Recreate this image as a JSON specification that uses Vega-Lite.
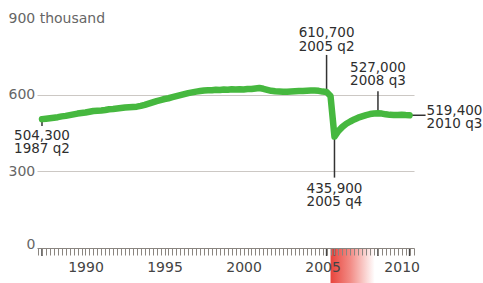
{
  "$schema": "https://vega.github.io/schema/vega-lite/v6.json",
  "autosize": {"type": "none"},
  "width": 377,
  "height": 230,
  "padding": {"left": 37, "top": 18, "right": 69, "bottom": 35},
  "background": "white",
  "config": {
    "view": {"stroke": null},
    "font": "DejaVu Sans",
    "text": {"font": "DejaVu Sans", "fontSize": 13.5, "color": "#2e2e2e", "lineHeight": 13.5},
    "axis": {"labelFont": "DejaVu Sans", "labelFontSize": 14}
  },
  "datasets": {
    "series": [
      {"t": 1987.25, "v": 504.3}, {"t": 1987.5, "v": 506}, {"t": 1987.75, "v": 508},
      {"t": 1988, "v": 510}, {"t": 1988.25, "v": 512}, {"t": 1988.5, "v": 515}, {"t": 1988.75, "v": 517},
      {"t": 1989, "v": 520}, {"t": 1989.25, "v": 523}, {"t": 1989.5, "v": 526}, {"t": 1989.75, "v": 528},
      {"t": 1990, "v": 530}, {"t": 1990.25, "v": 533}, {"t": 1990.5, "v": 536}, {"t": 1990.75, "v": 537},
      {"t": 1991, "v": 538}, {"t": 1991.25, "v": 540}, {"t": 1991.5, "v": 543}, {"t": 1991.75, "v": 544},
      {"t": 1992, "v": 546}, {"t": 1992.25, "v": 548}, {"t": 1992.5, "v": 550}, {"t": 1992.75, "v": 551},
      {"t": 1993, "v": 552}, {"t": 1993.25, "v": 553}, {"t": 1993.5, "v": 556}, {"t": 1993.75, "v": 560},
      {"t": 1994, "v": 565}, {"t": 1994.25, "v": 570}, {"t": 1994.5, "v": 575}, {"t": 1994.75, "v": 579},
      {"t": 1995, "v": 583}, {"t": 1995.25, "v": 586}, {"t": 1995.5, "v": 590}, {"t": 1995.75, "v": 594},
      {"t": 1996, "v": 598}, {"t": 1996.25, "v": 602}, {"t": 1996.5, "v": 606}, {"t": 1996.75, "v": 609},
      {"t": 1997, "v": 612}, {"t": 1997.25, "v": 614}, {"t": 1997.5, "v": 616}, {"t": 1997.75, "v": 617},
      {"t": 1998, "v": 617}, {"t": 1998.25, "v": 619}, {"t": 1998.5, "v": 618}, {"t": 1998.75, "v": 620},
      {"t": 1999, "v": 619}, {"t": 1999.25, "v": 621}, {"t": 1999.5, "v": 620}, {"t": 1999.75, "v": 621},
      {"t": 2000, "v": 620}, {"t": 2000.25, "v": 622}, {"t": 2000.5, "v": 622}, {"t": 2000.75, "v": 624},
      {"t": 2001, "v": 626}, {"t": 2001.25, "v": 623}, {"t": 2001.5, "v": 619}, {"t": 2001.75, "v": 615},
      {"t": 2002, "v": 613}, {"t": 2002.25, "v": 612}, {"t": 2002.5, "v": 611}, {"t": 2002.75, "v": 611},
      {"t": 2003, "v": 612}, {"t": 2003.25, "v": 613}, {"t": 2003.5, "v": 614}, {"t": 2003.75, "v": 614},
      {"t": 2004, "v": 615}, {"t": 2004.25, "v": 616}, {"t": 2004.5, "v": 616}, {"t": 2004.75, "v": 615},
      {"t": 2005, "v": 612}, {"t": 2005.25, "v": 610.7}, {"t": 2005.5, "v": 595}, {"t": 2005.75, "v": 435.9},
      {"t": 2006, "v": 458}, {"t": 2006.25, "v": 474}, {"t": 2006.5, "v": 486}, {"t": 2006.75, "v": 495},
      {"t": 2007, "v": 503}, {"t": 2007.25, "v": 510}, {"t": 2007.5, "v": 515}, {"t": 2007.75, "v": 520},
      {"t": 2008, "v": 524}, {"t": 2008.25, "v": 526}, {"t": 2008.5, "v": 527}, {"t": 2008.75, "v": 526},
      {"t": 2009, "v": 523}, {"t": 2009.25, "v": 521}, {"t": 2009.5, "v": 520}, {"t": 2009.75, "v": 520},
      {"t": 2010, "v": 521}, {"t": 2010.25, "v": 520}, {"t": 2010.5, "v": 519.4}
    ],
    "notes": [
      {"id": "start", "t": 1987.25, "v": 504.3, "label": "504,300\n1987 q2"},
      {"id": "peak", "t": 2005.25, "v": 610.7, "label": "610,700\n2005 q2"},
      {"id": "low", "t": 2005.75, "v": 435.9, "label": "435,900\n2005 q4"},
      {"id": "high", "t": 2008.5, "v": 527, "label": "527,000\n2008 q3"},
      {"id": "end", "t": 2010.5, "v": 519.4, "label": "519,400\n2010 q3"}
    ],
    "band": [{"start": 2005.5, "end": 2008.3}]
  },
  "layer": [
    {
      "data": {"name": "band"},
      "mark": {"type": "rect", "color": {"gradient": "linear", "x1": 0, "y1": 0, "x2": 1, "y2": 0,
        "stops": [{"offset": 0, "color": "#e8443c"}, {"offset": 0.45, "color": "#f28c86"}, {"offset": 1, "color": "#ffffff"}]}},
      "encoding": {
        "x": {"field": "start", "type": "quantitative", "title": null, "scale": {"domain": [1986.934, 2010.78], "nice": false, "zero": false}},
        "x2": {"field": "end"},
        "y": {"datum": 0, "type": "quantitative", "scale": {"domain": [0, 900], "nice": false}},
        "y2": {"datum": -140}
      }
    },
    {
      "mark": {"type": "rule", "color": "#ccc8c4", "strokeWidth": 1.2},
      "encoding": {
        "x": {"datum": 1991.3, "type": "quantitative"},
        "x2": {"datum": 2010.78},
        "y": {"datum": 900, "type": "quantitative"}
      }
    },
    {
      "data": {"name": "notes"},
      "transform": [{"filter": "datum.id === 'start'"}],
      "mark": {"type": "rule", "color": "#333", "strokeWidth": 1.5, "y2Offset": 7},
      "encoding": {"x": {"field": "t", "type": "quantitative", "title": null}, "y": {"field": "v", "type": "quantitative", "title": null}, "y2": {"field": "v"}}
    },
    {
      "data": {"name": "notes"},
      "transform": [{"filter": "datum.id === 'peak'"}],
      "mark": {"type": "rule", "color": "#333", "strokeWidth": 1.5, "y2Offset": -37},
      "encoding": {"x": {"field": "t", "type": "quantitative", "title": null}, "y": {"field": "v", "type": "quantitative", "title": null}, "y2": {"field": "v"}}
    },
    {
      "data": {"name": "notes"},
      "transform": [{"filter": "datum.id === 'high'"}],
      "mark": {"type": "rule", "color": "#333", "strokeWidth": 1.5, "y2Offset": -22},
      "encoding": {"x": {"field": "t", "type": "quantitative", "title": null}, "y": {"field": "v", "type": "quantitative", "title": null}, "y2": {"field": "v"}}
    },
    {
      "data": {"name": "notes"},
      "transform": [{"filter": "datum.id === 'low'"}],
      "mark": {"type": "rule", "color": "#333", "strokeWidth": 1.5, "y2Offset": 41},
      "encoding": {"x": {"field": "t", "type": "quantitative", "title": null}, "y": {"field": "v", "type": "quantitative", "title": null}, "y2": {"field": "v"}}
    },
    {
      "data": {"name": "notes"},
      "transform": [{"filter": "datum.id === 'end'"}],
      "mark": {"type": "rule", "color": "#333", "strokeWidth": 1.5, "x2Offset": 16},
      "encoding": {"x": {"field": "t", "type": "quantitative", "title": null}, "x2": {"field": "t"}, "y": {"field": "v", "type": "quantitative", "title": null}}
    },
    {
      "data": {"name": "series"},
      "mark": {"type": "line", "color": "#46b83f", "strokeWidth": 6.5, "strokeCap": "round", "strokeJoin": "round"},
      "encoding": {
        "x": {"field": "t", "type": "quantitative", "title": null,
          "axis": {
            "values": [1987, 1987.25, 1987.5, 1987.75, 1988, 1988.25, 1988.5, 1988.75, 1989, 1989.25, 1989.5, 1989.75,
              1990, 1990.25, 1990.5, 1990.75, 1991, 1991.25, 1991.5, 1991.75, 1992, 1992.25, 1992.5, 1992.75,
              1993, 1993.25, 1993.5, 1993.75, 1994, 1994.25, 1994.5, 1994.75, 1995, 1995.25, 1995.5, 1995.75,
              1996, 1996.25, 1996.5, 1996.75, 1997, 1997.25, 1997.5, 1997.75, 1998, 1998.25, 1998.5, 1998.75,
              1999, 1999.25, 1999.5, 1999.75, 2000, 2000.25, 2000.5, 2000.75, 2001, 2001.25, 2001.5, 2001.75,
              2002, 2002.25, 2002.5, 2002.75, 2003, 2003.25, 2003.5, 2003.75, 2004, 2004.25, 2004.5, 2004.75,
              2005, 2005.25, 2005.5, 2005.75, 2006, 2006.25, 2006.5, 2006.75, 2007, 2007.25, 2007.5, 2007.75,
              2008, 2008.25, 2008.5, 2008.75, 2009, 2009.25, 2009.5, 2009.75, 2010, 2010.25, 2010.5, 2010.75],
            "tickCount": 500,
            "labelExpr": "datum.value % 5 === 0 ? format(datum.value, 'd') : ''",
            "labelOverlap": false,
            "labelFlush": false,
            "labelBound": false,
            "grid": false,
            "domainColor": "#8a8580",
            "domainWidth": 1.2,
            "tickColor": "#8a8580",
            "tickSize": 7,
            "tickWidth": 1,
            "labelPadding": 5,
            "labelColor": "#444",
            "zindex": 1
          }
        },
        "y": {"field": "v", "type": "quantitative", "title": null,
          "axis": {
            "values": [0, 300, 600, 900],
            "labelExpr": "datum.value === 900 ? '900 thousand' : format(datum.value, 'd')",
            "domain": false,
            "ticks": false,
            "tickSize": 0,
            "grid": true,
            "gridColor": "#ccc8c4",
            "gridWidth": 1.2,
            "gridOpacity": {"condition": {"test": "datum.value === 900 || datum.value === 0", "value": 0}, "value": 1},
            "labelAlign": {"condition": {"test": "datum.value === 0", "value": "right"}, "value": "left"},
            "labelPadding": {"condition": {"test": "datum.value === 0", "value": 2}, "value": 29},
            "labelBaseline": {"condition": {"test": "datum.value === 0", "value": "alphabetic"}, "value": "middle"},
            "labelColor": "#666"
          }
        }
      }
    },
    {
      "data": {"name": "notes"},
      "mark": {"type": "rule", "color": "#444", "strokeWidth": 1.5, "y2Offset": 8},
      "encoding": {"x": {"field": "t", "type": "quantitative", "title": null}, "y": {"datum": 0, "type": "quantitative"}, "y2": {"datum": 0}}
    },
    {
      "data": {"name": "notes"},
      "transform": [{"filter": "datum.id === 'start'"}],
      "mark": {"type": "text", "align": "center", "baseline": "alphabetic", "dy": 20.5, "lineBreak": "\n"},
      "encoding": {"x": {"field": "t", "type": "quantitative", "title": null}, "y": {"field": "v", "type": "quantitative", "title": null}, "text": {"field": "label"}}
    },
    {
      "data": {"name": "notes"},
      "transform": [{"filter": "datum.id === 'peak'"}],
      "mark": {"type": "text", "align": "center", "baseline": "alphabetic", "dy": -54.5, "lineBreak": "\n"},
      "encoding": {"x": {"field": "t", "type": "quantitative", "title": null}, "y": {"field": "v", "type": "quantitative", "title": null}, "text": {"field": "label"}}
    },
    {
      "data": {"name": "notes"},
      "transform": [{"filter": "datum.id === 'high'"}],
      "mark": {"type": "text", "align": "center", "baseline": "alphabetic", "dy": -41.5, "lineBreak": "\n"},
      "encoding": {"x": {"field": "t", "type": "quantitative", "title": null}, "y": {"field": "v", "type": "quantitative", "title": null}, "text": {"field": "label"}}
    },
    {
      "data": {"name": "notes"},
      "transform": [{"filter": "datum.id === 'low'"}],
      "mark": {"type": "text", "align": "center", "baseline": "alphabetic", "dy": 56, "lineBreak": "\n"},
      "encoding": {"x": {"field": "t", "type": "quantitative", "title": null}, "y": {"field": "v", "type": "quantitative", "title": null}, "text": {"field": "label"}}
    },
    {
      "data": {"name": "notes"},
      "transform": [{"filter": "datum.id === 'end'"}],
      "mark": {"type": "text", "align": "left", "baseline": "alphabetic", "dx": 17, "dy": -0.5, "lineBreak": "\n"},
      "encoding": {"x": {"field": "t", "type": "quantitative", "title": null}, "y": {"field": "v", "type": "quantitative", "title": null}, "text": {"field": "label"}}
    }
  ]
}
